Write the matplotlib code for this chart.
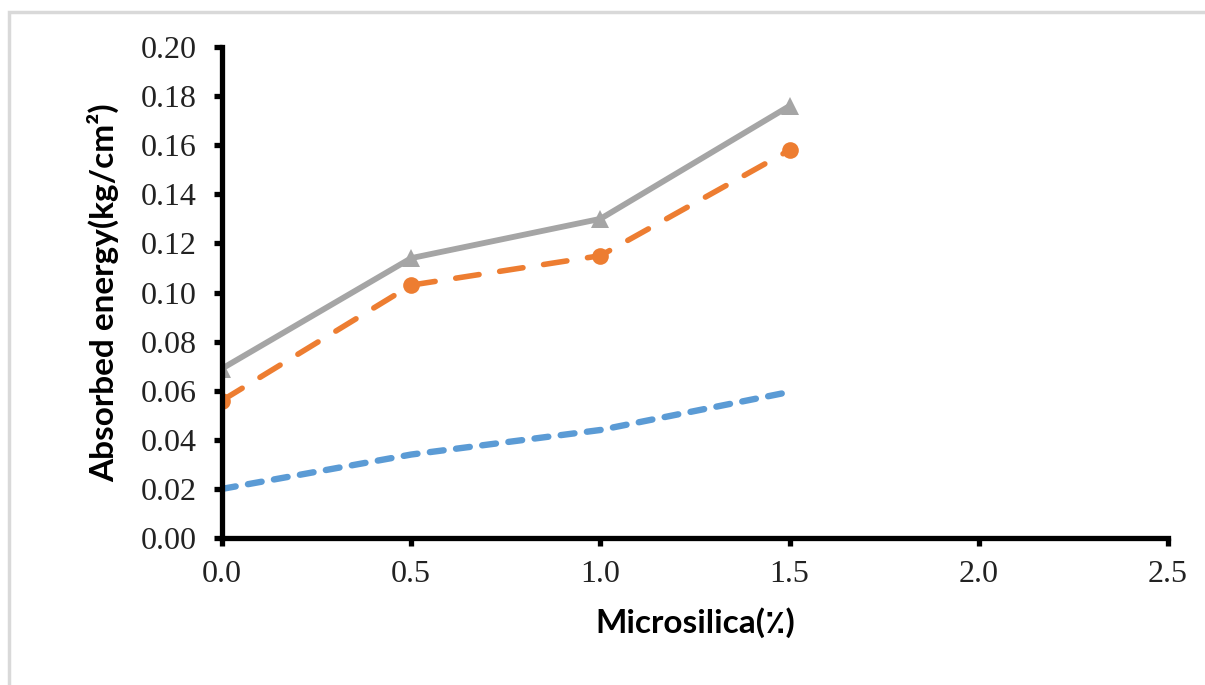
import matplotlib.pyplot as plt
from matplotlib.patches import Rectangle

# microsilica content (%)
microsilica = [0.0, 0.5, 1.0, 1.5]

# absorbed energy (kg/cm2) for the three series
energy_low = [0.020, 0.034, 0.044, 0.0595]
energy_mid = [0.056, 0.103, 0.115, 0.158]
energy_high = [0.069, 0.114, 0.130, 0.176]

x_ticks = [0.0, 0.5, 1.0, 1.5, 2.0, 2.5]
y_ticks = [0.00, 0.02, 0.04, 0.06, 0.08, 0.10, 0.12, 0.14, 0.16, 0.18, 0.20]

plt.rcParams['lines.scale_dashes'] = False

fig = plt.figure(figsize=(12.05, 6.85), dpi=100)
ax = fig.add_axes([222 / 1205, 147 / 685, 946 / 1205, 491 / 685])

# light grey frame around the chart area
fig.patches.append(Rectangle((9 / 1205, -0.1), 1.2, (685 - 12) / 685 + 0.1,
                             transform=fig.transFigure, fill=False,
                             edgecolor='#d9d9d9', linewidth=2.5))

ax.plot(microsilica, energy_low, color='#5b9bd5', linewidth=4.6,
        dashes=(10, 9), dash_capstyle='round', solid_capstyle='round')
ax.plot(microsilica, energy_mid, color='#ed7d31', linewidth=4.0,
        dashes=(17, 15), dash_capstyle='round', marker='o', markersize=12,
        markeredgewidth=0)
ax.plot(microsilica, energy_high, color='#a5a5a5', linewidth=4.2,
        marker='^', markersize=13, markeredgewidth=0)

ax.set_xlim(0, 2.5)
ax.set_ylim(0, 0.20)
ax.set_xticks(x_ticks)
ax.set_yticks(y_ticks)
ax.set_xticklabels([f'{v:.1f}' for v in x_ticks])
ax.set_yticklabels([f'{v:.2f}' for v in y_ticks])

for side in ['top', 'right']:
    ax.spines[side].set_visible(False)
for side in ['left', 'bottom']:
    ax.spines[side].set_linewidth(3.8)
    ax.spines[side].set_color('black')

ax.tick_params(axis='both', direction='out', length=6, width=3.8,
               color='black', labelsize=23)
ax.tick_params(axis='y', pad=12)
ax.tick_params(axis='x', pad=10)
for lab in ax.get_xticklabels() + ax.get_yticklabels():
    lab.set_fontfamily('Liberation Serif')
    lab.set_color('#222222')

ax.set_xlabel('Microsilica(٪)', fontsize=24, fontweight='bold',
              family=['Lato', 'DejaVu Sans'], labelpad=13)
ax.set_ylabel('Absorbed energy(kg/cm²)', fontsize=24, fontweight='bold',
              family=['Lato', 'DejaVu Sans'], labelpad=16)

fig.savefig('out.png', dpi=100)
